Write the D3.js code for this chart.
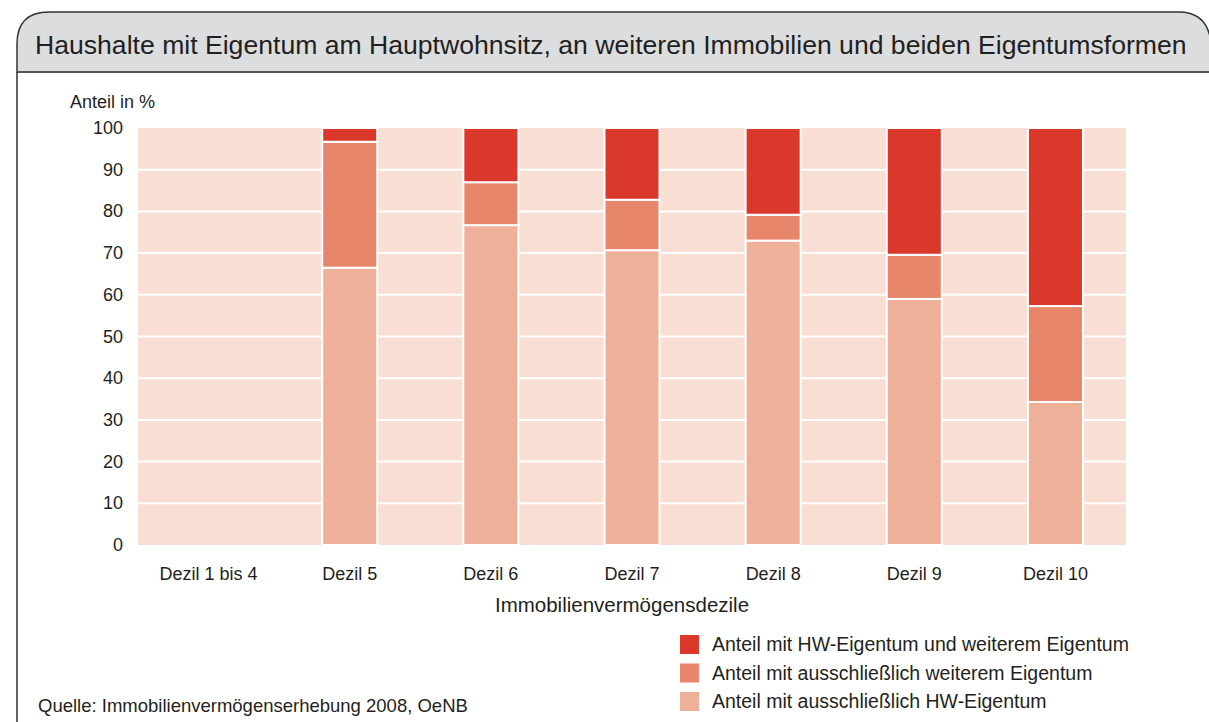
<!DOCTYPE html>
<html>
<head>
<meta charset="utf-8">
<script src="https://cdn.jsdelivr.net/npm/d3@7"></script>
<style>
	body { margin: 0; background: #fff; }
	text { font-family: "Liberation Sans", Arial, sans-serif; fill: #231f20; }
</style>
</head>
<body>
<svg id="chart" width="1209" height="722"></svg>
<script>
// Chart data
var categories = ["Dezil 1 bis 4", "Dezil 5", "Dezil 6", "Dezil 7", "Dezil 8", "Dezil 9", "Dezil 10"];
var hwOnly = [0, 66.5, 76.7, 70.7, 73.0, 59.0, 34.3];
var weiterOnly = [0, 30.2, 10.3, 12.1, 6.2, 10.6, 23.0];
var beide = [0, 3.3, 13.0, 17.2, 20.8, 30.4, 42.7];
var seriesNames = [
	"Anteil mit ausschließlich HW-Eigentum",
	"Anteil mit ausschließlich weiterem Eigentum",
	"Anteil mit HW-Eigentum und weiterem Eigentum"
];
var yTicks = [0, 10, 20, 30, 40, 50, 60, 70, 80, 90, 100];

var colors = ["#efb09a", "#e7866a", "#d9382a"];

var svg = d3.select("#chart");

// Frame with title band
var fx = 17, fy = 12, fr = 32, fw = 1209, tb = 72;
svg.append("path")
	.attr("d", "M" + fx + "," + tb + " L" + fx + "," + (fy + fr) +
		" Q" + fx + "," + fy + " " + (fx + fr) + "," + fy +
		" L" + (fw - 30) + "," + fy +
		" Q" + (fw - 2) + "," + fy + " " + (fw + 2) + "," + (fy + 30) +
		" L" + (fw + 2) + "," + tb + " Z")
	.attr("fill", "#dcdddf")
	.attr("stroke", "#333")
	.attr("stroke-width", 1.5);

svg.append("line")
	.attr("x1", fx).attr("x2", fw)
	.attr("y1", tb).attr("y2", tb)
	.attr("stroke", "#555")
	.attr("stroke-width", 2);

svg.append("line")
	.attr("x1", fx).attr("x2", fx)
	.attr("y1", tb).attr("y2", 722)
	.attr("stroke", "#333")
	.attr("stroke-width", 1.5);

svg.append("text")
	.attr("x", 35)
	.attr("y", 54)
	.style("font-size", "26.6px")
	.text("Haushalte mit Eigentum am Hauptwohnsitz, an weiteren Immobilien und beiden Eigentumsformen");

// Plot area
var plotLeft = 138, plotRight = 1126, plotTop = 128, plotBottom = 545;

var x = d3.scaleBand()
	.domain(categories)
	.range([plotLeft, plotRight])
	.paddingInner(0.61)
	.paddingOuter(0.305);

var y = d3.scaleLinear()
	.domain([0, 100])
	.range([plotBottom, plotTop]);

// Background
svg.append("rect")
	.attr("x", plotLeft).attr("y", plotTop)
	.attr("width", plotRight - plotLeft).attr("height", plotBottom - plotTop)
	.attr("fill", "#f8ded3");

// Gridlines
svg.selectAll(".grid")
	.data(yTicks.filter(d => d > 0 && d < 100))
	.enter()
	.append("line")
	.attr("class", "grid")
	.attr("x1", plotLeft).attr("x2", plotRight)
	.attr("y1", d => y(d)).attr("y2", d => y(d))
	.attr("stroke", "#fff")
	.attr("stroke-width", 2);

// Stack data
var table = categories.map((c, i) => ({ cat: c, s0: hwOnly[i], s1: weiterOnly[i], s2: beide[i] }));
var stack = d3.stack().keys(["s0", "s1", "s2"])(table);

// Bars
svg.append("g")
	.selectAll("g")
	.data(stack)
	.enter()
	.append("g")
	.attr("fill", (d, i) => colors[i])
	.selectAll("rect")
	.data(d => d.filter(s => s[1] - s[0] > 0))
	.enter()
	.append("rect")
	.attr("x", d => x(d.data.cat))
	.attr("y", d => y(d[1]))
	.attr("width", x.bandwidth())
	.attr("height", d => y(d[0]) - y(d[1]))
	.attr("stroke", "#fff")
	.attr("stroke-width", 2);

// Y axis labels
svg.selectAll(".ylab")
	.data(yTicks)
	.enter()
	.append("text")
	.attr("class", "ylab")
	.attr("x", 123)
	.attr("y", d => y(d) + 6)
	.attr("text-anchor", "end")
	.style("font-size", "18px")
	.text(d => d);

svg.append("text")
	.attr("x", 70)
	.attr("y", 108)
	.style("font-size", "18px")
	.text("Anteil in %");

// X axis labels
svg.selectAll(".xlab")
	.data(categories)
	.enter()
	.append("text")
	.attr("class", "xlab")
	.attr("x", d => x(d) + x.bandwidth() / 2)
	.attr("y", 580)
	.attr("text-anchor", "middle")
	.style("font-size", "18px")
	.text(d => d);

svg.append("text")
	.attr("x", 622)
	.attr("y", 612)
	.attr("text-anchor", "middle")
	.style("font-size", "20.5px")
	.text("Immobilienvermögensdezile");

// Legend
var legendOrder = [2, 1, 0];
var legend = svg.append("g").attr("transform", "translate(680,635)");
legend.selectAll("rect")
	.data(legendOrder)
	.enter()
	.append("rect")
	.attr("x", 0)
	.attr("y", (d, i) => i * 28.5)
	.attr("width", 19)
	.attr("height", 19)
	.attr("fill", d => colors[d]);

legend.selectAll("text")
	.data(legendOrder)
	.enter()
	.append("text")
	.attr("x", 32)
	.attr("y", (d, i) => i * 28.5 + 16)
	.style("font-size", "19.5px")
	.text(d => seriesNames[d]);

svg.append("text")
	.attr("x", 38)
	.attr("y", 712)
	.style("font-size", "18.5px")
	.text("Quelle: Immobilienvermögenserhebung 2008, OeNB");
</script>
</body>
</html>
